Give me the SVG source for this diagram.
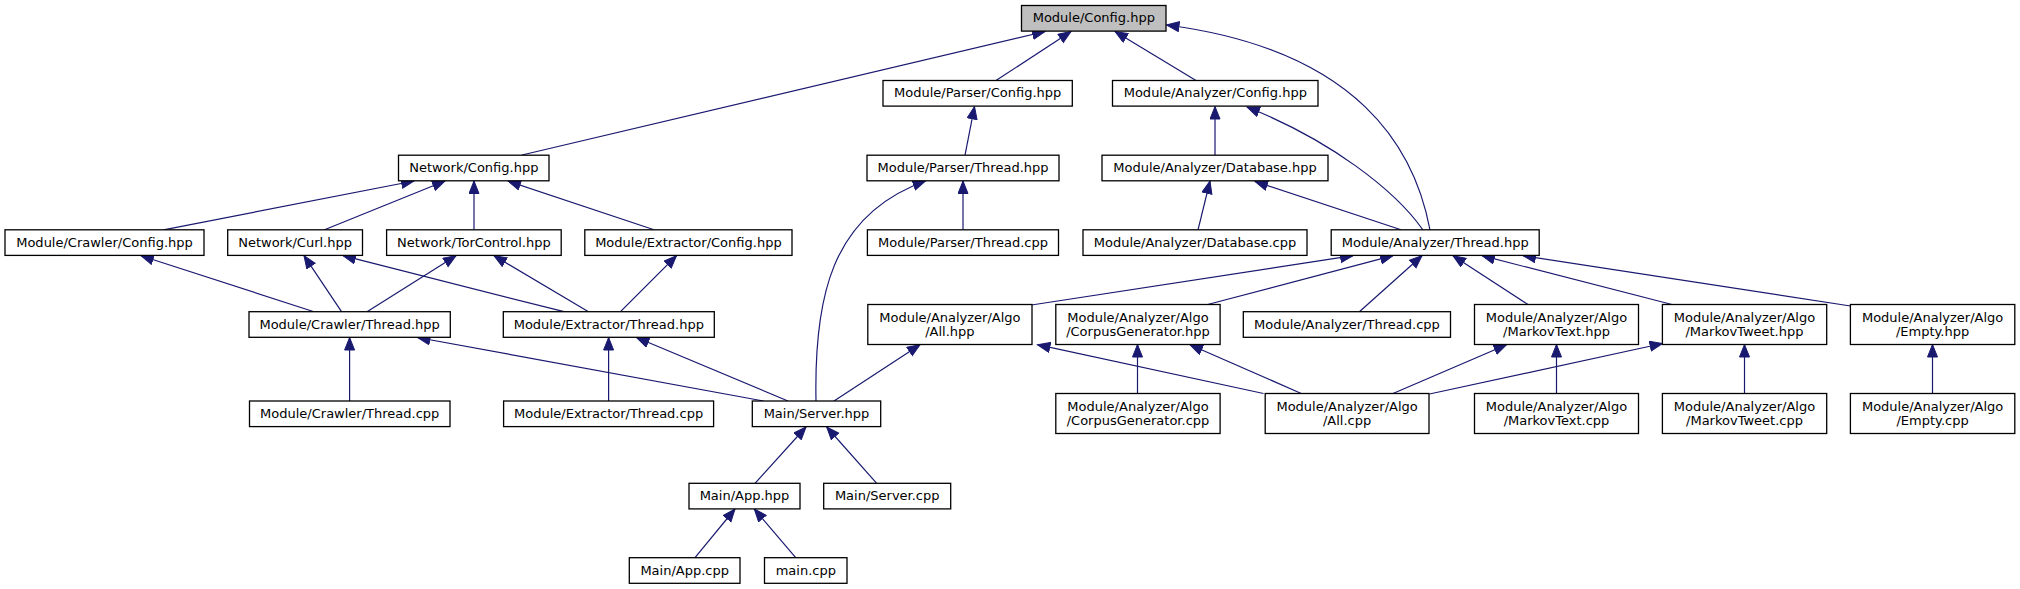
<svg xmlns="http://www.w3.org/2000/svg" width="2020" height="589" viewBox="0 0 2020 589">
<defs>
<marker id="ah" markerUnits="userSpaceOnUse" markerWidth="16" markerHeight="14" refX="13" refY="5.5" orient="auto">
<path d="M0.5,0.5 L13,5.5 L0.5,10.5 z" fill="#191970" stroke="#191970" stroke-width="1"/>
</marker>
</defs>
<style>
rect{fill:#ffffff;stroke:#000000;stroke-width:1.3}
rect.root{fill:#bfbfbf}
text{font-family:"DejaVu Sans",sans-serif;font-size:13px;fill:#000000;text-anchor:middle}
#edges path{fill:none;stroke:#191970;stroke-width:1.2;marker-end:url(#ah)}
</style>
<rect x="0" y="0" width="2020" height="589" style="fill:#ffffff;stroke:none"/>
<g id="edges">
<path d="M522,155 L1045,31.5"/>
<path d="M996,80.5 L1071,31.5"/>
<path d="M1196,80.5 L1115,31.5"/>
<path d="M1430,230 C1415,150 1360,50 1166.5,25"/>
<path d="M1423,230 C1395,190 1330,140 1247,107"/>
<path d="M1215,155.2 L1215,106.5"/>
<path d="M965,155.2 L974.5,106.5"/>
<path d="M963,229.8 L963,181"/>
<path d="M816,401 C814,300 830,215 925.5,181"/>
<path d="M1198,229.8 L1210,181"/>
<path d="M1401,229.8 L1255,181.5"/>
<path d="M163.5,229.8 L414,181"/>
<path d="M324.5,229.8 L445,181"/>
<path d="M474,229.8 L474,181"/>
<path d="M654,229.8 L508,181"/>
<path d="M314,311.7 L141,255.7"/>
<path d="M341.5,311.7 L304,255.7"/>
<path d="M367,311.7 L456,255.7"/>
<path d="M564,311.7 L343,255.7"/>
<path d="M588.5,311.7 L494,255.7"/>
<path d="M620.5,311.7 L676.5,255.7"/>
<path d="M349.6,401 L349.6,337.5"/>
<path d="M608.6,401 L608.6,337.5"/>
<path d="M763.5,401 L417.5,337.5"/>
<path d="M788,401 L636.5,337.5"/>
<path d="M834,401 L920,344.7"/>
<path d="M755,483.3 L806,427"/>
<path d="M876.7,483.3 L826.7,427"/>
<path d="M695,557.7 L735,509"/>
<path d="M795.7,557.7 L754.3,509"/>
<path d="M1031.5,305 L1353,255.7"/>
<path d="M1207.6,304.5 L1393,255.7"/>
<path d="M1359.4,311.7 L1422,255.7"/>
<path d="M1528,304.5 L1453,255.7"/>
<path d="M1672,304.5 L1482,255.7"/>
<path d="M1850.5,306 L1523,255.7"/>
<path d="M1137.5,393.5 L1137.5,344.5"/>
<path d="M1263.5,393.5 L1037.5,344.7"/>
<path d="M1301.3,393.5 L1190,344.7"/>
<path d="M1393,393.5 L1506.5,344.7"/>
<path d="M1429.5,394 L1662.5,343.5"/>
<path d="M1556.5,393.5 L1556.5,344.5"/>
<path d="M1744.5,393.5 L1744.5,344.5"/>
<path d="M1932.5,393.5 L1932.5,344.5"/>
</g>
<g id="n_module_config"><rect class="root" x="1021.5" y="5.5" width="144.5" height="25.6"/><text x="1093.8" y="22.3">Module/Config.hpp</text></g>
<g id="n_parser_config"><rect x="883" y="80.5" width="189.3" height="25.6"/><text x="977.7" y="97.3">Module/Parser/Config.hpp</text></g>
<g id="n_analyzer_config"><rect x="1112.5" y="80.5" width="205.5" height="25.6"/><text x="1215.3" y="97.3">Module/Analyzer/Config.hpp</text></g>
<g id="n_network_config"><rect x="398.5" y="155.2" width="150.5" height="25.6"/><text x="473.8" y="172">Network/Config.hpp</text></g>
<g id="n_parser_thread_hpp"><rect x="867" y="155.2" width="192" height="25.6"/><text x="963" y="172">Module/Parser/Thread.hpp</text></g>
<g id="n_analyzer_database_hpp"><rect x="1102" y="155.2" width="226" height="25.6"/><text x="1215" y="172">Module/Analyzer/Database.hpp</text></g>
<g id="n_crawler_config"><rect x="5" y="229.8" width="199" height="25.6"/><text x="104.5" y="246.6">Module/Crawler/Config.hpp</text></g>
<g id="n_network_curl"><rect x="227.7" y="229.8" width="134.8" height="25.6"/><text x="295.1" y="246.6">Network/Curl.hpp</text></g>
<g id="n_network_torcontrol"><rect x="386.6" y="229.8" width="174.6" height="25.6"/><text x="473.9" y="246.6">Network/TorControl.hpp</text></g>
<g id="n_extractor_config"><rect x="584.8" y="229.8" width="207.2" height="25.6"/><text x="688.4" y="246.6">Module/Extractor/Config.hpp</text></g>
<g id="n_parser_thread_cpp"><rect x="867.4" y="229.8" width="191.1" height="25.6"/><text x="963" y="246.6">Module/Parser/Thread.cpp</text></g>
<g id="n_analyzer_database_cpp"><rect x="1083" y="229.8" width="224" height="25.6"/><text x="1195" y="246.6">Module/Analyzer/Database.cpp</text></g>
<g id="n_analyzer_thread_hpp"><rect x="1331.2" y="229.8" width="208" height="25.6"/><text x="1435.2" y="246.6">Module/Analyzer/Thread.hpp</text></g>
<g id="n_crawler_thread_hpp"><rect x="249" y="311.7" width="201.3" height="25.6"/><text x="349.6" y="328.5">Module/Crawler/Thread.hpp</text></g>
<g id="n_extractor_thread_hpp"><rect x="503.3" y="311.7" width="211" height="25.6"/><text x="608.8" y="328.5">Module/Extractor/Thread.hpp</text></g>
<g id="n_analyzer_thread_cpp"><rect x="1243.3" y="311.7" width="207.2" height="25.6"/><text x="1346.9" y="328.5">Module/Analyzer/Thread.cpp</text></g>
<g id="n_algo_all_hpp"><rect x="867.8" y="304.5" width="164.2" height="40"/><text x="949.9" y="321.5">Module/Analyzer/Algo</text><text x="949.9" y="335.5">/All.hpp</text></g>
<g id="n_algo_corpus_hpp"><rect x="1055.8" y="304.5" width="164.3" height="40"/><text x="1138" y="321.5">Module/Analyzer/Algo</text><text x="1138" y="335.5">/CorpusGenerator.hpp</text></g>
<g id="n_algo_markovtext_hpp"><rect x="1474.5" y="304.5" width="164" height="40"/><text x="1556.5" y="321.5">Module/Analyzer/Algo</text><text x="1556.5" y="335.5">/MarkovText.hpp</text></g>
<g id="n_algo_markovtweet_hpp"><rect x="1662.4" y="304.5" width="164.3" height="40"/><text x="1744.5" y="321.5">Module/Analyzer/Algo</text><text x="1744.5" y="335.5">/MarkovTweet.hpp</text></g>
<g id="n_algo_empty_hpp"><rect x="1850.4" y="304.5" width="164.4" height="40"/><text x="1932.6" y="321.5">Module/Analyzer/Algo</text><text x="1932.6" y="335.5">/Empty.hpp</text></g>
<g id="n_crawler_thread_cpp"><rect x="249.5" y="401" width="200.5" height="25.6"/><text x="349.7" y="417.8">Module/Crawler/Thread.cpp</text></g>
<g id="n_extractor_thread_cpp"><rect x="503.6" y="401" width="210" height="25.6"/><text x="608.6" y="417.8">Module/Extractor/Thread.cpp</text></g>
<g id="n_main_server_hpp"><rect x="752.3" y="401" width="128.4" height="25.6"/><text x="816.5" y="417.8">Main/Server.hpp</text></g>
<g id="n_algo_corpus_cpp"><rect x="1055.8" y="393.5" width="164.3" height="40"/><text x="1138" y="410.5">Module/Analyzer/Algo</text><text x="1138" y="424.5">/CorpusGenerator.cpp</text></g>
<g id="n_algo_all_cpp"><rect x="1265.2" y="393.5" width="163.8" height="40"/><text x="1347.1" y="410.5">Module/Analyzer/Algo</text><text x="1347.1" y="424.5">/All.cpp</text></g>
<g id="n_algo_markovtext_cpp"><rect x="1474.5" y="393.5" width="164" height="40"/><text x="1556.5" y="410.5">Module/Analyzer/Algo</text><text x="1556.5" y="424.5">/MarkovText.cpp</text></g>
<g id="n_algo_markovtweet_cpp"><rect x="1662.4" y="393.5" width="164.3" height="40"/><text x="1744.5" y="410.5">Module/Analyzer/Algo</text><text x="1744.5" y="424.5">/MarkovTweet.cpp</text></g>
<g id="n_algo_empty_cpp"><rect x="1850.4" y="393.5" width="164.4" height="40"/><text x="1932.6" y="410.5">Module/Analyzer/Algo</text><text x="1932.6" y="424.5">/Empty.cpp</text></g>
<g id="n_main_app_hpp"><rect x="689" y="483.3" width="111" height="25.6"/><text x="744.5" y="500.1">Main/App.hpp</text></g>
<g id="n_main_server_cpp"><rect x="823.7" y="483.3" width="127" height="25.6"/><text x="887.2" y="500.1">Main/Server.cpp</text></g>
<g id="n_main_app_cpp"><rect x="629.3" y="557.7" width="110.7" height="25.6"/><text x="684.7" y="574.5">Main/App.cpp</text></g>
<g id="n_main_cpp"><rect x="764.5" y="557.7" width="82.5" height="25.6"/><text x="805.8" y="574.5">main.cpp</text></g>
</svg>
